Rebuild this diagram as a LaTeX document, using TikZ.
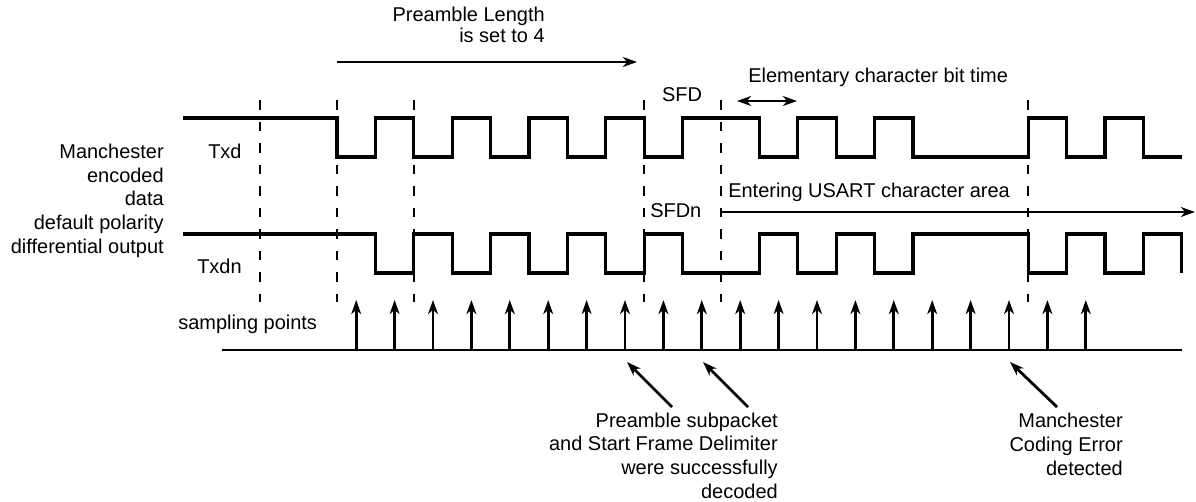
\documentclass[tikz,border=0pt]{standalone}
\usepackage{fontspec}
\setmainfont{Liberation Sans}
\usepackage{tikz}
\usetikzlibrary{arrows.meta}

\tikzset{
  wave/.style={line width=2.3pt},
  guide/.style={line width=1.5pt, dash pattern=on 7pt off 8.3pt},
  tip/.tip={Stealth[length=10pt, width=7pt, inset=3pt]},
  pointer/.style={line width=2pt, -tip},
  lbl/.style={font=\fontsize{14.2}{16.8}\selectfont, inner sep=0pt},
}

\begin{document}
\begin{tikzpicture}[x=0.025cm, y=-0.025cm]

    \useasboundingbox (0,0) rectangle (1196,501);

    % Define timing (first edge, half bit)
    \def\xO{337}
    \def\hb{38.4}
    \def\ex#1{\xO+\hb*(#1)}

    % Signal levels
    \def\hiA{118}
    \def\loA{157}
    \def\hiB{234}
    \def\loB{273}

    % =========================================================================
    % Guide lines
    % =========================================================================
    \foreach \k in {-2,0,2,8,10,18}
        \draw[guide] ({\ex{\k}},100) -- ({\ex{\k}},302);

    % =========================================================================
    % Txd
    % =========================================================================
    \draw[wave] ({\ex{-4}},\hiA) -- ({\ex{0}},\hiA)
        |- ({\ex{1}},\loA) |- ({\ex{2}},\hiA) |- ({\ex{3}},\loA) |- ({\ex{4}},\hiA)
        |- ({\ex{5}},\loA) |- ({\ex{6}},\hiA) |- ({\ex{7}},\loA) |- ({\ex{8}},\hiA)
        |- ({\ex{9}},\loA) |- ({\ex{11}},\hiA) |- ({\ex{12}},\loA) |- ({\ex{13}},\hiA)
        |- ({\ex{14}},\loA) |- ({\ex{15}},\hiA) |- ({\ex{18}},\loA) |- ({\ex{19}},\hiA)
        |- ({\ex{20}},\loA) |- ({\ex{21}},\hiA) |- ({\ex{22}},\loA);

    \node[lbl, anchor=base west] (txd) at (208,158) {Txd};
    \node[lbl, anchor=base] (sfd) at (682,101) {SFD};

    % =========================================================================
    % Txdn
    % =========================================================================
    \draw[wave] ({\ex{-4}},\hiB) -- ({\ex{1}},\hiB)
        |- ({\ex{2}},\loB) |- ({\ex{3}},\hiB) |- ({\ex{4}},\loB) |- ({\ex{5}},\hiB)
        |- ({\ex{6}},\loB) |- ({\ex{7}},\hiB) |- ({\ex{8}},\loB) |- ({\ex{9}},\hiB)
        |- ({\ex{11}},\loB) |- ({\ex{12}},\hiB) |- ({\ex{13}},\loB) |- ({\ex{14}},\hiB)
        |- ({\ex{15}},\loB) |- ({\ex{18}},\hiB) |- ({\ex{19}},\loB) |- ({\ex{20}},\hiB)
        |- ({\ex{21}},\loB) |- ({\ex{22}},\hiB) -- ({\ex{22}},\loB);

    \node[lbl, anchor=base west] (txdn) at (197,273) {Txdn};
    \node[lbl, anchor=base west] (sfdn) at (650,217) {SFDn};

    % Left description (base = last line)
    \node[lbl, anchor=base east, align=right] (manch) at (164,253)
        {Manchester\\encoded\\data\\default polarity\\differential output};

    % =========================================================================
    % Top annotations
    % =========================================================================
    \node[lbl, anchor=base east, align=right, font=\fontsize{14.2}{12.2}\selectfont]
        (prelen) at (545,42) {Preamble Length\\is set to 4};
    \coordinate (preS) at (337,62);
    \coordinate (preE) at (637,62);
    \draw[pointer] (preS) -- (preE);

    \node[lbl, anchor=base west] (bittime) at (748,82) {Elementary character bit time};
    \coordinate (bitS) at (737,101);
    \coordinate (bitE) at (797,101);
    \draw[pointer, tip-tip] (bitS) -- (bitE);

    \node[lbl, anchor=base west] (entering) at (728,197) {Entering USART character area};
    \coordinate (entS) at (722,212);
    \coordinate (entE) at (1195,212);
    \draw[pointer] (entS) -- (entE);

    % =========================================================================
    % Sampling points
    % =========================================================================
    \node[lbl, anchor=base west] (sampling) at (178,329) {sampling points};
    \coordinate (baseL) at (222,350);
    \coordinate (baseR) at (1182,350);
    \draw[line width=2pt] (baseL) -- (baseR);

    \foreach \k in {0,...,19} {
        \coordinate (s\k) at ({\ex{\k+0.5}},350);
        \draw[pointer] (s\k) -- ++(0,-50);
    }

    % =========================================================================
    % Bottom annotations
    % =========================================================================
    \node[lbl, anchor=base east, align=right] (decoded) at (778,498)
        {Preamble subpacket\\and Start Frame Delimiter\\were successfully\\decoded};
    \coordinate (decA) at (672,407);
    \coordinate (decB) at (748,407);
    \draw[pointer] (decA) -- (627,362);
    \draw[pointer] (decB) -- (703,362);

    \node[lbl, anchor=base east, align=right] (mcerror) at (1123,475)
        {Manchester\\Coding Error\\detected};
    \coordinate (errA) at (1057,407);
    \draw[pointer] (errA) -- (1010,362);

\end{tikzpicture}
\end{document}
